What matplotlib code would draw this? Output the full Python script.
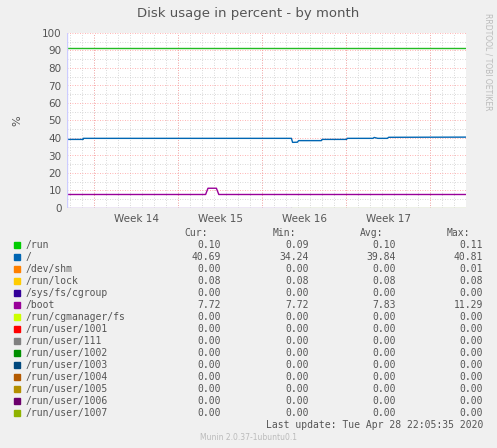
import matplotlib
matplotlib.use("Agg")
import matplotlib.pyplot as plt
import numpy as np

# data (x in days from start of graph)
root_x = [0, 1.35, 1.35, 18.7, 18.8, 19.2, 19.3, 21.2, 21.25, 23.3, 23.35, 25.5, 25.6, 25.9, 26.0, 26.7, 26.8, 33.25]
root_y = [39.2, 39.2, 39.8, 39.8, 37.5, 37.6, 38.5, 38.5, 39.2, 39.2, 39.8, 39.8, 40.3, 39.8, 39.8, 39.8, 40.4, 40.5]
boot_x = [0, 11.55, 11.75, 12.45, 12.65, 33.25]
boot_y = [7.72, 7.72, 11.29, 11.29, 7.72, 7.72]
warn_y = 91.5
zero_x1 = [0, 18.7]
zero_x2 = [18.7, 33.25]
week_pos = [5.75, 12.75, 19.75, 26.75]
week_labels = ["Week 14", "Week 15", "Week 16", "Week 17"]
names = ["/run", "/", "/dev/shm", "/run/lock", "/sys/fs/cgroup", "/boot", "/run/cgmanager/fs",
         "/run/user/1001", "/run/user/111", "/run/user/1002", "/run/user/1003", "/run/user/1004",
         "/run/user/1005", "/run/user/1006", "/run/user/1007"]
colors = ["#00cc00", "#0066b3", "#ff8000", "#ffcc00", "#330099", "#990099", "#ccff00", "#ff0000",
          "#808080", "#008f00", "#00487d", "#b35a00", "#b38f00", "#6b006b", "#8fb300"]
cur = ["0.10", "40.69", "0.00", "0.08", "0.00", "7.72"] + ["0.00"] * 9
mn = ["0.09", "34.24", "0.00", "0.08", "0.00", "7.72"] + ["0.00"] * 9
avg = ["0.10", "39.84", "0.00", "0.08", "0.00", "7.83"] + ["0.00"] * 9
mx = ["0.11", "40.81", "0.01", "0.08", "0.00", "11.29"] + ["0.00"] * 9

W, H = 497, 448
fig = plt.figure(figsize=(W/100, H/100), dpi=100, facecolor="#f0f0f0")
x0, x1, yb, yt = 67, 466, 208, 33
ax = fig.add_axes([x0/W, 1-yb/H, (x1-x0)/W, (yb-yt)/H])
ax.set_facecolor("white")
ax.set_xlim(0, 33.25)
ax.set_ylim(0, 100)
for s in ax.spines.values():
    s.set_visible(False)
# grid
for d in np.arange(0.25, 33.25, 1.0):
    ax.axvline(d, color="#cccccc", lw=0.6, ls=(0, (1, 2)), zorder=0)
for v in np.arange(5, 100, 5):
    if v % 10:
        ax.axhline(v, color="#cccccc", lw=0.6, ls=(0, (1, 2)), zorder=0)
for d in np.arange(2.25, 33.25, 7.0):
    ax.axvline(d, color="#ff9999", lw=0.6, ls=(0, (1, 2)), zorder=0)
for v in range(10, 101, 10):
    ax.axhline(v, color="#ff9999", lw=0.6, ls=(0, (1, 2)), zorder=0)

ax.axhline(warn_y, color="#22bb22", lw=1)
ax.plot(root_x, root_y, color="#0066b3", lw=1)
ax.plot(boot_x, boot_y, color="#990099", lw=1)
ax.plot(zero_x1, [0, 0], color="#aa88cc", lw=1)
ax.plot(zero_x2, [0, 0], color="#aabb88", lw=1)
ax.axvline(0, color="#ccccff", lw=1)

ax.set_yticks(range(0, 101, 10))
ax.set_xticks(week_pos)
ax.set_xticklabels(week_labels)
ax.tick_params(length=0, labelsize=7.5, colors="#555555", pad=4)
ax.set_ylabel("%", fontsize=8, color="#555555", labelpad=14)

fig.text(248/W, 1-13/H, "Disk usage in percent - by month", ha="center", va="center", fontsize=9.5, color="#555555")
fig.text(488/W, 1-62/H, "RRDTOOL / TOBI OETIKER", rotation=270, ha="center", va="center", fontsize=5.5, color="#bbbbbb")

mono = "DejaVu Sans Mono"
fs = 7
ty = 233
fig.text(208/W, 1-ty/H, "Cur:", ha="right", va="center", family=mono, fontsize=fs, color="#555555")
fig.text(296/W, 1-ty/H, "Min:", ha="right", va="center", family=mono, fontsize=fs, color="#555555")
fig.text(383/W, 1-ty/H, "Avg:", ha="right", va="center", family=mono, fontsize=fs, color="#555555")
fig.text(470/W, 1-ty/H, "Max:", ha="right", va="center", family=mono, fontsize=fs, color="#555555")
for i, n in enumerate(names):
    y = 245 + i*12
    fig.patches.append(plt.Rectangle((14/W, 1-(y+3)/H), 6/W, 6/H, transform=fig.transFigure, color=colors[i]))
    fig.text(26/W, 1-y/H, n, va="center", family=mono, fontsize=fs, color="#555555")
    for xx, val in zip([221, 309, 396, 483], [cur[i], mn[i], avg[i], mx[i]]):
        fig.text(xx/W, 1-y/H, val, ha="right", va="center", family=mono, fontsize=fs, color="#555555")
fig.text(483/W, 1-425/H, "Last update: Tue Apr 28 22:05:35 2020", ha="right", va="center", family=mono, fontsize=fs, color="#555555")
fig.text(248/W, 1-437/H, "Munin 2.0.37-1ubuntu0.1", ha="center", va="center", fontsize=5.5, color="#bbbbbb")

fig.savefig("out.png", dpi=100, facecolor=fig.get_facecolor())
